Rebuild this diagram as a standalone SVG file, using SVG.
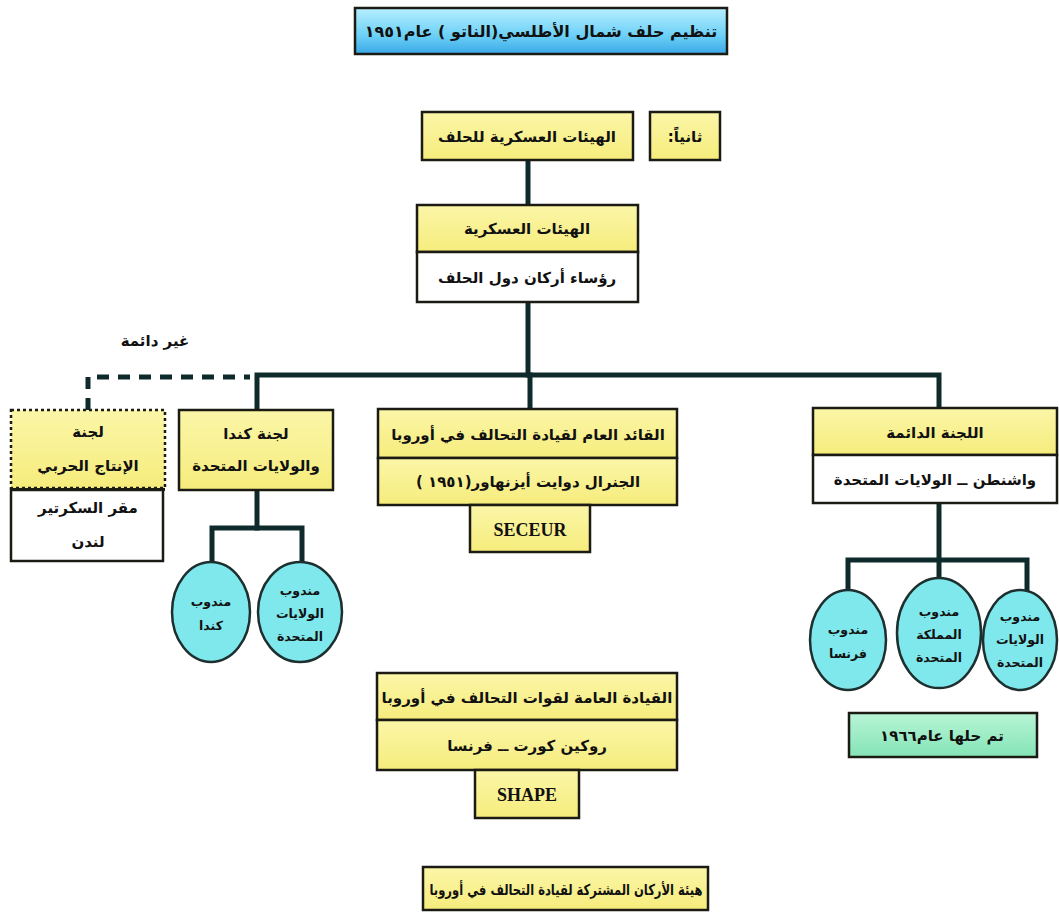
<svg xmlns="http://www.w3.org/2000/svg" width="1059" height="912" viewBox="0 0 1059 912">
<defs>
<linearGradient id="gBlue" x1="0" y1="0" x2="0" y2="1">
<stop offset="0" stop-color="#b8efff"/><stop offset="0.6" stop-color="#6cd0f6"/><stop offset="1" stop-color="#3aa8e8"/>
</linearGradient>
<linearGradient id="gYel" x1="0" y1="0" x2="0" y2="1">
<stop offset="0" stop-color="#fbf6a8"/><stop offset="1" stop-color="#f6ec7c"/>
</linearGradient>
<linearGradient id="gGreen" x1="0" y1="0" x2="0" y2="1">
<stop offset="0" stop-color="#b8f5d6"/><stop offset="1" stop-color="#84e4b6"/>
</linearGradient>
<style>
.box{stroke:#1b1b14;stroke-width:2.5}
.yel{fill:url(#gYel)}
.wht{fill:#ffffff}
.dot{stroke-dasharray:3 3}
.circ{fill:#7fe8ec;stroke:#1d2f2f;stroke-width:2.5}
.ln{fill:none;stroke:#0e2a2a;stroke-width:5;stroke-linecap:square}
.dash{fill:none;stroke:#0e2a2a;stroke-width:5;stroke-dasharray:12 9}
.t{font-family:"DejaVu Sans",sans-serif;font-weight:bold;font-size:15px;fill:#111;text-anchor:middle;direction:rtl}
.ts{font-family:"DejaVu Sans",sans-serif;font-weight:bold;font-size:12.5px;fill:#111;text-anchor:middle;direction:rtl}
.lat{font-family:"Liberation Serif",serif;font-weight:bold;font-size:18px;fill:#111;text-anchor:middle}
</style>
</defs>
<rect width="1059" height="912" fill="#ffffff"/>

<g id="connectors">
<line class="ln" x1="528" y1="160" x2="528" y2="205"/>
<line class="ln" x1="528" y1="302" x2="528" y2="375"/>
<polyline class="ln" points="257,410 257,375 939,375 939,408"/>
<line class="ln" x1="530" y1="375" x2="530" y2="409"/>
<polyline class="dash" points="88,410 88,377 250,377"/>
<polyline class="ln" points="257,490 257,528"/>
<polyline class="ln" points="212,562 212,528 302,528 302,562"/>
<polyline class="ln" points="939,503 939,578"/>
<polyline class="ln" points="848,590 848,560 1027,560 1027,590"/>
</g>

<g id="title">
<rect class="box" x="355" y="8" width="372" height="46" fill="url(#gBlue)"/>
<text class="t" x="541" y="37" style="font-size:16px">تنظيم حلف شمال الأطلسي(الناتو ) عام١٩٥١</text>
</g>

<g id="n-thanian">
<rect class="box yel" x="650" y="112" width="70" height="48"/>
<text class="t" x="685" y="142">ثانياً:</text>
</g>

<g id="n-military-bodies-alliance">
<rect class="box yel" x="422" y="112" width="211" height="48"/>
<text class="t" x="527" y="142">الهيئات العسكرية للحلف</text>
</g>

<g id="n-military-bodies">
<rect class="box yel" x="417" y="205" width="221" height="47"/>
<rect class="box wht" x="417" y="252" width="221" height="50"/>
<text class="t" x="527" y="234">الهيئات العسكرية</text>
<text class="t" x="527" y="283">رؤساء أركان دول الحلف</text>
</g>

<text class="t" x="155" y="346">غير دائمة</text>

<g id="n-war-production">
<rect class="box yel dot" x="11" y="410" width="154" height="78"/>
<rect class="box wht" x="11" y="490" width="152" height="71"/>
<rect x="11" y="488" width="154" height="3" fill="#1b1b14"/>
<text class="t" x="88" y="437">لجنة</text>
<text class="t" x="88" y="471">الإنتاج الحربي</text>
<text class="t" x="88" y="513">مقر السكرتير</text>
<text class="t" x="88" y="547">لندن</text>
</g>

<g id="n-canada-us">
<rect class="box yel" x="179" y="410" width="154" height="80"/>
<text class="t" x="256" y="439">لجنة كندا</text>
<text class="t" x="256" y="471">والولايات المتحدة</text>
</g>

<g id="c-canada">
<ellipse class="circ" cx="211" cy="612" rx="39" ry="50"/>
<text class="ts" x="211" y="606">مندوب</text>
<text class="ts" x="211" y="630">كندا</text>
</g>
<g id="c-us-left">
<ellipse class="circ" cx="300" cy="612" rx="42" ry="50"/>
<text class="ts" x="300" y="595">مندوب</text>
<text class="ts" x="300" y="618">الولايات</text>
<text class="ts" x="300" y="641">المتحدة</text>
</g>

<g id="n-saceur">
<rect class="box yel" x="378" y="409" width="299" height="49"/>
<rect class="box yel" x="378" y="458" width="299" height="47"/>
<text class="t" x="528" y="440">القائد العام لقيادة التحالف في أوروبا</text>
<text class="t" x="528" y="487">الجنرال دوايت أيزنهاور(١٩٥١ )</text>
<rect class="box yel" x="470" y="505" width="120" height="47"/>
<text class="lat" x="530" y="536">SECEUR</text>
</g>

<g id="n-permanent">
<rect class="box yel" x="813" y="408" width="244" height="47"/>
<rect class="box wht" x="813" y="455" width="244" height="48"/>
<text class="t" x="935" y="438">اللجنة الدائمة</text>
<text class="t" x="935" y="485">واشنطن ــ الولايات المتحدة</text>
</g>

<g id="c-france">
<ellipse class="circ" cx="848" cy="640" rx="38" ry="50"/>
<text class="ts" x="848" y="634">مندوب</text>
<text class="ts" x="848" y="658">فرنسا</text>
</g>
<g id="c-uk">
<ellipse class="circ" cx="939" cy="633" rx="42" ry="55"/>
<text class="ts" x="939" y="616">مندوب</text>
<text class="ts" x="939" y="639">المملكة</text>
<text class="ts" x="939" y="662">المتحدة</text>
</g>
<g id="c-us-right">
<ellipse class="circ" cx="1020" cy="640" rx="37" ry="50"/>
<text class="ts" x="1020" y="621">مندوب</text>
<text class="ts" x="1020" y="644">الولايات</text>
<text class="ts" x="1020" y="667">المتحدة</text>
</g>

<g id="n-dissolved">
<rect class="box" x="849" y="713" width="188" height="44" fill="url(#gGreen)"/>
<text class="t" x="942" y="741">تم حلها عام١٩٦٦</text>
</g>

<g id="n-shape">
<rect class="box yel" x="377" y="673" width="300" height="47"/>
<rect class="box yel" x="377" y="720" width="300" height="50"/>
<text class="t" x="527" y="703">القيادة العامة لقوات التحالف في أوروبا</text>
<text class="t" x="527" y="751">روكين كورت ــ فرنسا</text>
<rect class="box yel" x="475" y="770" width="104" height="48"/>
<text class="lat" x="527" y="801">SHAPE</text>
</g>

<g id="n-joint-staff">
<rect class="box yel" x="423" y="867" width="285" height="43"/>
<text class="t" x="0" y="0" transform="translate(566,895) scale(0.77,1)">هيئة الأركان المشتركة لقيادة التحالف في أوروبا</text>
</g>
</svg>
